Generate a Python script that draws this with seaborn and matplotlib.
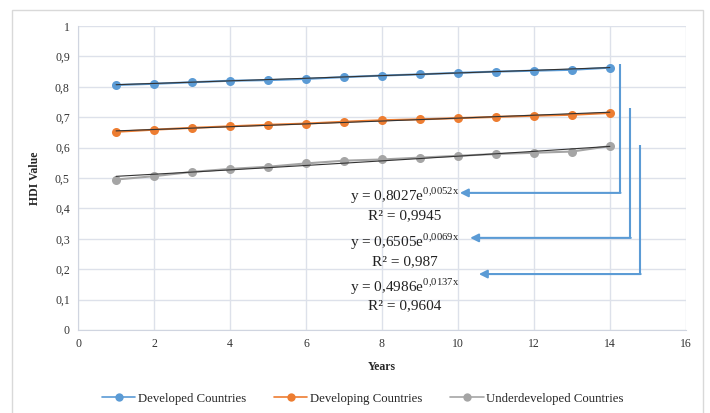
import matplotlib
matplotlib.use('Agg')
import matplotlib.pyplot as plt
import seaborn as sns
import numpy as np
import pandas as pd
from matplotlib.patches import Rectangle
from matplotlib.lines import Line2D

years = list(range(1, 15))
developed = [0.806, 0.810, 0.815, 0.820, 0.822, 0.826, 0.832, 0.837, 0.841, 0.846, 0.850, 0.853, 0.856, 0.863]
developing = [0.652, 0.659, 0.665, 0.670, 0.675, 0.679, 0.685, 0.690, 0.693, 0.697, 0.701, 0.705, 0.708, 0.714]
underdeveloped = [0.495, 0.506, 0.520, 0.530, 0.537, 0.548, 0.557, 0.561, 0.567, 0.573, 0.579, 0.583, 0.587, 0.605]

series_names = ['Developed Countries', 'Developing Countries', 'Underdeveloped Countries']
colors = ['#5B9BD5', '#ED7D31', '#A5A5A5']

# exponential trendlines as printed on the chart
fit_a = [0.8027, 0.6505, 0.4986]
fit_b = [0.0052, 0.0069, 0.0137]
fit_r2 = ['0,9945', '0,987', '0,9604']

df = pd.DataFrame({
    'Years': years * 3,
    'HDI': developed + developing + underdeveloped,
    'Group': [n for n in series_names for _ in years],
})

sns.set_style('whitegrid')
plt.rcParams['font.family'] = ['Liberation Serif', 'DejaVu Serif']
plt.rcParams['mathtext.fontset'] = 'custom'
plt.rcParams['mathtext.rm'] = 'Liberation Serif'

fig = plt.figure(figsize=(7.1, 4.13), dpi=100)
ax = fig.add_axes([0.110, 0.201, 0.856, 0.736])

fig.patches.append(Rectangle((12 / 710, -0.05), 691 / 710, 1.05 - 10 / 413,
                             transform=fig.transFigure, fill=False,
                             edgecolor='#d9d9d9', linewidth=1.0))

sns.lineplot(data=df, x='Years', y='HDI', hue='Group', palette=colors,
             marker='o', markersize=6.5, markeredgewidth=0, linewidth=1.5,
             legend=False, ax=ax, zorder=3)

xs = np.array(years, dtype=float)
for a, b in zip(fit_a, fit_b):
    ax.plot(xs, a * np.exp(b * xs), color='#333333', linewidth=0.8, zorder=4)

ax.set_xlim(0, 16)
ax.set_ylim(0, 1)
ax.set_xticks(range(0, 17, 2))
ax.set_yticks(np.arange(0, 1.01, 0.1))
ax.set_yticklabels(['0'] + [f'0,{i}' for i in range(1, 10)] + ['1'])
ax.grid(True, color='#dde1ea', linewidth=1.0)
for side in ['top', 'right']:
    ax.spines[side].set_visible(False)
for side in ['left', 'bottom']:
    ax.spines[side].set_color('#d0d5e0')
ax.tick_params(axis='both', labelsize=8.5, colors='#333333', length=0, pad=6)
ax.set_xlabel('Years', fontsize=8.5, fontweight='bold', labelpad=8)
ax.set_ylabel('HDI Value', fontsize=8.5, fontweight='bold', labelpad=10)

# annotation arrows
arrow_x = [14.26, 14.53, 14.79]
arrow_top = [0.875, 0.730, 0.609]
arrow_y = [0.451, 0.303, 0.184]
arrow_tip = [10.05, 10.32, 10.55]
for x0, top, y0, tip in zip(arrow_x, arrow_top, arrow_y, arrow_tip):
    ax.plot([x0, x0], [top, y0], color='#5B9BD5', linewidth=1.5, zorder=5,
            solid_capstyle='butt')
    ax.annotate('', xy=(tip, y0), xytext=(x0 + 0.02, y0),
                arrowprops=dict(arrowstyle='-|>', color='#5B9BD5', lw=1.5,
                                mutation_scale=12, shrinkA=0, shrinkB=0),
                zorder=5)

eq_y = [0.441, 0.290, 0.142]
r2_y = [0.375, 0.224, 0.079]
for a, b, r2, ey, ry in zip(fit_a, fit_b, fit_r2, eq_y, r2_y):
    a_s = f'{a:.4f}'.replace('.', ',')
    b_s = f'{b:.4f}'.replace('.', '{,}')
    ax.text(8.6, ey, f'y = {a_s}e$^{{\\mathregular{{{b_s}x}}}}$', fontsize=11,
            ha='center', va='center', color='#222222', zorder=6)
    ax.text(8.6, ry, f'R² = {r2}', fontsize=11, ha='center', va='center',
            color='#222222', zorder=6)

handles = [Line2D([0], [0], color=c, marker='o', markersize=6, markeredgewidth=0,
                  linewidth=1.2) for c in colors]
fig.legend(handles, series_names, loc='center', bbox_to_anchor=(0.511, 0.034),
           ncol=3, frameon=False, fontsize=9.2, handlelength=2.6,
           columnspacing=2.2, handletextpad=0.2)

fig.savefig('out.png', dpi=100)
